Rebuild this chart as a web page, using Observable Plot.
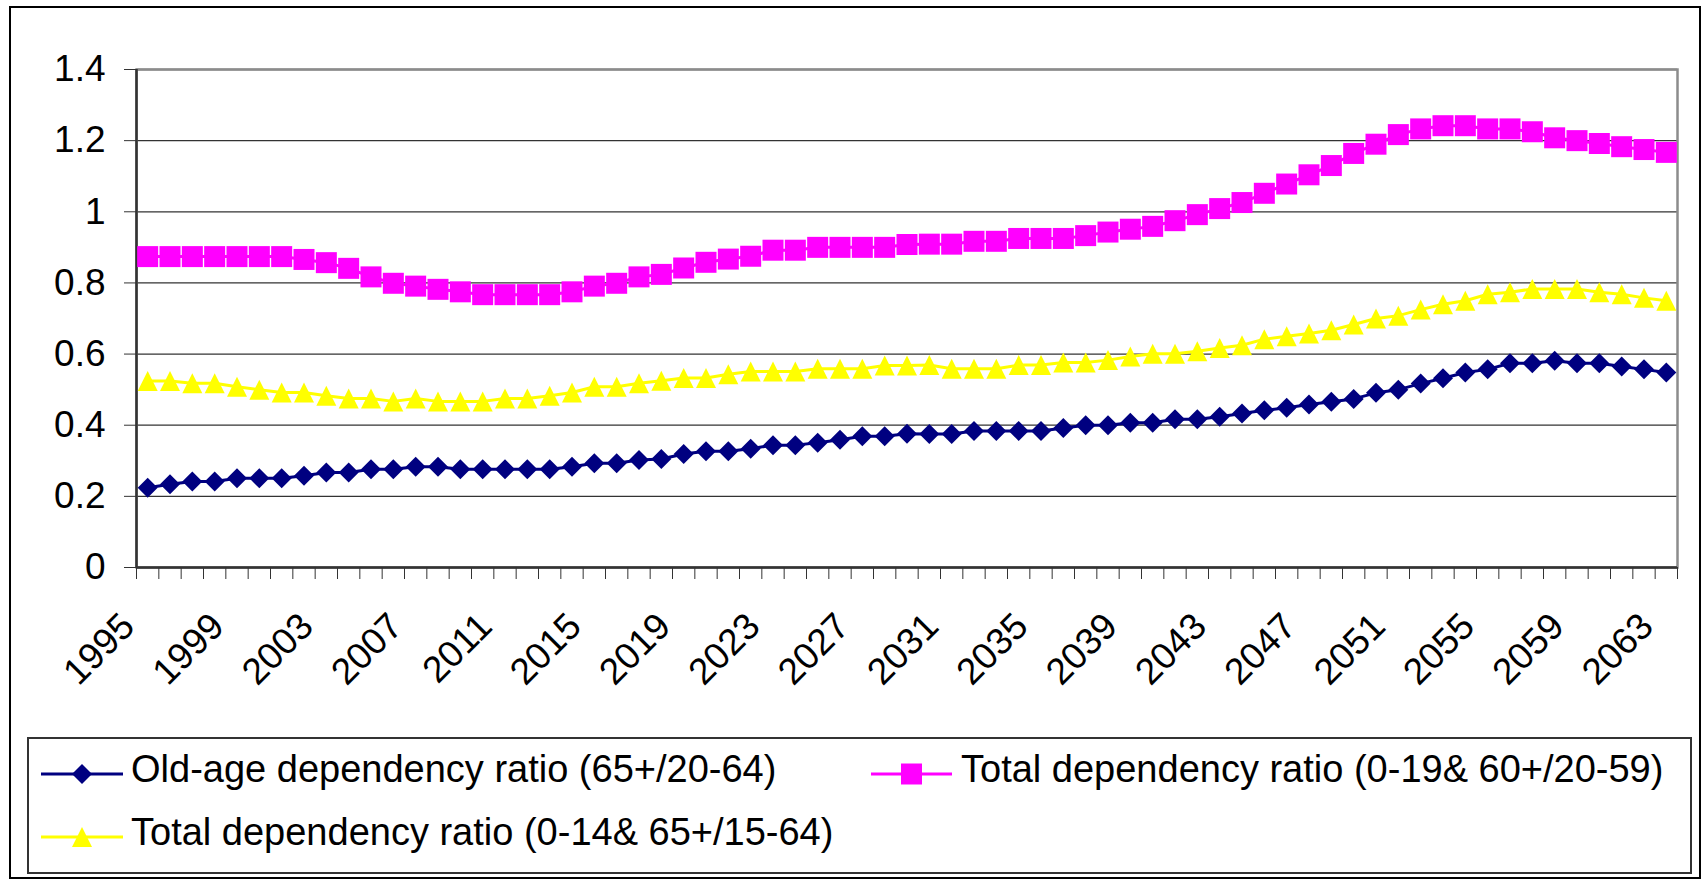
<!DOCTYPE html>
<html>
<head>
<meta charset="utf-8">
<script src="https://cdn.jsdelivr.net/npm/d3@7"></script>
<script src="https://cdn.jsdelivr.net/npm/@observablehq/plot@0.6"></script>
<style>
html, body { margin: 0; padding: 0; background: #fff; }
body { width: 1702px; height: 881px; position: relative; overflow: hidden; font-family: "Liberation Sans", Arial, sans-serif; }
#chart { position: absolute; left: 0; top: 0; }
#legend { position: absolute; left: 27px; top: 737px; }
#frame { position: absolute; left: 9px; top: 6px; width: 1692px; height: 873px; border: 2px solid #000; box-sizing: border-box; pointer-events: none; }
</style>
</head>
<body>
<div id="chart"></div>
<div id="legend"></div>
<div id="frame"></div>
<script>
// ---- data ----
const years = [1995,1996,1997,1998,1999,2000,2001,2002,2003,2004,2005,2006,2007,2008,2009,2010,2011,2012,2013,2014,
  2015,2016,2017,2018,2019,2020,2021,2022,2023,2024,2025,2026,2027,2028,2029,2030,2031,2032,2033,2034,
  2035,2036,2037,2038,2039,2040,2041,2042,2043,2044,2045,2046,2047,2048,2049,2050,2051,2052,2053,2054,
  2055,2056,2057,2058,2059,2060,2061,2062,2063];

const oldAge = [0.224,0.234,0.242,0.242,0.251,0.251,0.251,0.258,0.267,0.267,0.276,0.276,0.283,0.283,0.276,0.276,0.276,0.276,0.276,0.283,
  0.293,0.293,0.302,0.305,0.319,0.327,0.327,0.334,0.344,0.344,0.351,0.359,0.369,0.369,0.376,0.375,0.375,0.384,0.384,0.384,
  0.384,0.392,0.400,0.400,0.407,0.407,0.417,0.417,0.424,0.433,0.442,0.449,0.458,0.466,0.474,0.491,0.500,0.517,0.532,0.548,
  0.557,0.574,0.574,0.581,0.574,0.574,0.565,0.557,0.548];

const total2059 = [0.874,0.874,0.874,0.874,0.874,0.874,0.874,0.866,0.857,0.841,0.817,0.799,0.791,0.782,0.775,0.767,0.767,0.767,0.767,0.775,
  0.791,0.799,0.817,0.824,0.842,0.858,0.867,0.875,0.892,0.892,0.900,0.900,0.900,0.900,0.908,0.909,0.909,0.917,0.917,0.925,
  0.925,0.925,0.933,0.943,0.951,0.959,0.975,0.992,1.009,1.026,1.052,1.078,1.104,1.130,1.164,1.190,1.217,1.233,1.242,1.242,
  1.233,1.233,1.225,1.208,1.200,1.192,1.183,1.175,1.167];

const total1564 = [0.524,0.524,0.518,0.518,0.508,0.500,0.492,0.492,0.483,0.475,0.475,0.467,0.475,0.467,0.467,0.467,0.475,0.475,0.483,0.492,
  0.508,0.508,0.518,0.525,0.533,0.533,0.543,0.551,0.551,0.551,0.559,0.559,0.559,0.568,0.568,0.569,0.559,0.559,0.559,0.569,
  0.569,0.576,0.576,0.583,0.593,0.601,0.601,0.608,0.617,0.625,0.642,0.650,0.658,0.667,0.683,0.700,0.708,0.725,0.740,0.750,
  0.768,0.774,0.783,0.783,0.783,0.774,0.768,0.758,0.750];

const seriesNames = [
  "Old-age dependency ratio (65+/20-64)",
  "Total dependency ratio (0-19& 60+/20-59)",
  "Total dependency ratio (0-14& 65+/15-64)"
];
const seriesColors = ["#000080", "#FF00FF", "#FFFF00"];

const yTicks = [0, 0.2, 0.4, 0.6, 0.8, 1, 1.2, 1.4];
const yTickLabels = ["0", "0.2", "0.4", "0.6", "0.8", "1", "1.2", "1.4"];
const xTickLabels = ["1995","1999","2003","2007","2011","2015","2019","2023","2027","2031","2035","2039","2043","2047","2051","2055","2059","2063"];

// ---- marker shapes ----
const diamondSym = {draw(ctx, size) { const r = Math.sqrt(size / Math.PI);
  ctx.moveTo(0, -r); ctx.lineTo(r, 0); ctx.lineTo(0, r); ctx.lineTo(-r, 0); ctx.closePath(); }};
const squareSym = {draw(ctx, size) { const r = Math.sqrt(size / Math.PI);
  ctx.moveTo(-r, -r); ctx.lineTo(r, -r); ctx.lineTo(r, r); ctx.lineTo(-r, r); ctx.closePath(); }};
const triangleSym = {draw(ctx, size) { const r = Math.sqrt(size / Math.PI);
  ctx.moveTo(0, -r); ctx.lineTo(r, r); ctx.lineTo(-r, r); ctx.closePath(); }};
const symbols = [diamondSym, squareSym, triangleSym];
const symbolR = [10, 10.5, 10];

// ---- table ----
const seriesValues = [oldAge, total2059, total1564];
const tables = seriesValues.map((vals, s) => years.map((yr, i) => ({year: yr, value: vals[i], series: seriesNames[s]})));

const boundaries = years.map(y => y - 0.5).concat([years[years.length - 1] + 0.5]);
const fontFamily = "'Liberation Sans', Arial, Helvetica, sans-serif";

const marks = [
  Plot.gridY(yTicks, {stroke: "#333", strokeOpacity: 1, strokeWidth: 1.3}),
  Plot.frame({stroke: "#8c8c8c", strokeWidth: 2.5}),
  Plot.ruleX([boundaries[0]], {stroke: "#333", strokeWidth: 2.5}),
  Plot.ruleY([0], {stroke: "#333", strokeWidth: 2.5}),
  Plot.axisY(yTicks, {tickSize: 12, tickPadding: 19, fontSize: 37, stroke: "#333",
    tickFormat: d => yTickLabels[yTicks.indexOf(d)], label: null, fill: "#000"}),
  Plot.axisX(boundaries, {tickSize: 12, tickFormat: () => "", label: null, stroke: "#333"}),
  Plot.text(xTickLabels, {x: d => +d, text: d => d, frameAnchor: "bottom", rotate: -45,
    textAnchor: "end", dx: -11, dy: 61, fontSize: 37, fill: "#000"})
];
tables.forEach((t, s) => {
  marks.push(Plot.line(t, {x: "year", y: "value", stroke: seriesColors[s], strokeWidth: 3}));
  marks.push(Plot.dot(t, {x: "year", y: "value", symbol: symbols[s], r: symbolR[s], fill: seriesColors[s], stroke: "none"}));
});

const chart = Plot.plot({
  width: 1702,
  height: 730,
  marginLeft: 136,
  marginRight: 25,
  marginTop: 69,
  marginBottom: 163,
  style: {fontFamily, background: "transparent", overflow: "visible"},
  x: {type: "linear", domain: [boundaries[0], boundaries[boundaries.length - 1]]},
  y: {domain: [0, 1.4]},
  marks
});
document.getElementById("chart").appendChild(chart);

// ---- legend (below the plot SVG) ----
const lw = 1665, lh = 137;
const lsvg = d3.select("#legend").append("svg").attr("width", lw).attr("height", lh)
  .style("font-family", fontFamily);
lsvg.append("rect").attr("x", 1).attr("y", 1).attr("width", lw - 2).attr("height", lh - 2)
  .attr("fill", "none").attr("stroke", "#333").attr("stroke-width", 2);
const legendPos = [
  {x0: 14, x1: 96, ly: 37, tx: 104, ty: 45},
  {x0: 844, x1: 925, ly: 37, tx: 934, ty: 45},
  {x0: 14, x1: 96, ly: 100, tx: 104, ty: 108}
];
seriesNames.forEach((name, s) => {
  const p = legendPos[s];
  const g = lsvg.append("g");
  g.append("line").attr("x1", p.x0).attr("x2", p.x1).attr("y1", p.ly).attr("y2", p.ly)
    .attr("stroke", seriesColors[s]).attr("stroke-width", 3);
  const r = symbolR[s];
  g.append("path").attr("transform", `translate(${(p.x0 + p.x1) / 2},${p.ly})`)
    .attr("d", d3.symbol(symbols[s], r * r * Math.PI)()).attr("fill", seriesColors[s]);
  g.append("text").attr("x", p.tx).attr("y", p.ty).attr("font-size", 38).attr("fill", "#000").text(name);
});
</script>
</body>
</html>
